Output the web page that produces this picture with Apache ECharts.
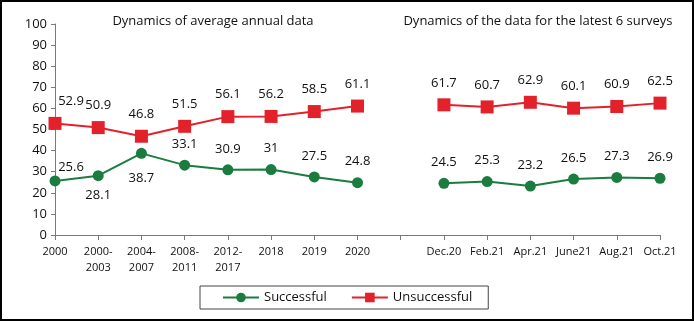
<!DOCTYPE html>
<html>
<head>
<meta charset="utf-8">
<script src="https://cdn.jsdelivr.net/npm/echarts@6/dist/echarts.min.js"></script>
<style>
  html, body { margin: 0; padding: 0; background: #fff; }
  #main { width: 694px; height: 321px; }
</style>
</head>
<body>
<div id="main"></div>
<script>
// categories (empty slot separates the two panels)
var categories = ['2000', '2000-\n2003', '2004-\n2007', '2008-\n2011', '2012-\n2017', '2018', '2019', '2020', '',
  'Dec.20', 'Feb.21', 'Apr.21', 'June21', 'Aug.21', 'Oct.21'];
var successful = [25.6, 28.1, 38.7, 33.1, 30.9, 31, 27.5, 24.8, null, 24.5, 25.3, 23.2, 26.5, 27.3, 26.9];
var unsuccessful = [52.9, 50.9, 46.8, 51.5, 56.1, 56.2, 58.5, 61.1, null, 61.7, 60.7, 62.9, 60.1, 60.9, 62.5];
var yTicks = [0, 100, 10];

var green = '#1a7d3f';
var red = '#e3212b';
var font = '"Open Sans", "Noto Sans", sans-serif';

// label placement per point
function buildData(values, name) {
  return values.map(function (v, i) {
    if (v === null) return '-';
    var item = { value: v };
    if (name === 's') {
      if (i === 0) item.label = { position: 'top', distance: 2, offset: [16, 0] };
      else if (i === 1) item.label = { position: 'bottom', distance: 8 };
      else if (i === 2) item.label = { position: 'bottom', distance: 13 };
    } else {
      if (i === 0) item.label = { offset: [16, 0] };
    }
    return item;
  });
}

var chart = echarts.init(document.getElementById('main'));
chart.setOption({
  animation: false,
  textStyle: { fontFamily: font },
  graphic: [{
    type: 'rect',
    shape: { x: 1, y: 1, width: 692, height: 319 },
    style: { fill: 'none', stroke: '#000', lineWidth: 2 }
  }],
  title: [
    { text: 'Dynamics of average annual data', left: 208, top: 10, textAlign: 'center',
      textStyle: { fontSize: 13, fontWeight: 'normal', color: '#111', fontFamily: font } },
    { text: 'Dynamics of the data for the latest 6 surveys', left: 533, top: 10, textAlign: 'center',
      textStyle: { fontSize: 13, fontWeight: 'normal', color: '#111', fontFamily: font } }
  ],
  legend: {
    data: ['Successful', 'Unsuccessful'],
    left: 200, top: 286,
    padding: [5, 16, 5, 22],
    itemWidth: 36, itemHeight: 12, itemGap: 24,
    borderColor: '#444', borderWidth: 1,
    textStyle: { fontSize: 13, color: '#111', fontFamily: font }
  },
  grid: { left: 55, right: 34, top: 24, bottom: 86, containLabel: false },
  xAxis: {
    type: 'category',
    data: categories,
    boundaryGap: false,
    axisLine: { lineStyle: { color: '#7a7a7a' } },
    axisTick: { interval: 0, length: 5, lineStyle: { color: '#7a7a7a' } },
    axisLabel: { interval: 0, fontSize: 11, color: '#111', margin: 9, lineHeight: 16 }
  },
  yAxis: {
    type: 'value',
    min: yTicks[0], max: yTicks[1], interval: yTicks[2],
    splitLine: { show: false },
    axisLine: { show: true, lineStyle: { color: '#7a7a7a' } },
    axisTick: { show: true, length: 4, lineStyle: { color: '#7a7a7a' } },
    axisLabel: { fontSize: 13, color: '#111', margin: 8 }
  },
  series: [
    {
      name: 'Successful',
      type: 'line',
      data: buildData(successful, 's'),
      connectNulls: false,
      symbol: 'circle', symbolSize: 11,
      lineStyle: { color: green, width: 2 },
      itemStyle: { color: green },
      label: { show: true, position: 'top', distance: 9, fontSize: 13, color: '#111' }
    },
    {
      name: 'Unsuccessful',
      type: 'line',
      data: buildData(unsuccessful, 'u'),
      connectNulls: false,
      symbol: 'rect', symbolSize: 13,
      lineStyle: { color: red, width: 2 },
      itemStyle: { color: red },
      label: { show: true, position: 'top', distance: 9, fontSize: 13, color: '#111' }
    }
  ]
});
</script>
</body>
</html>
